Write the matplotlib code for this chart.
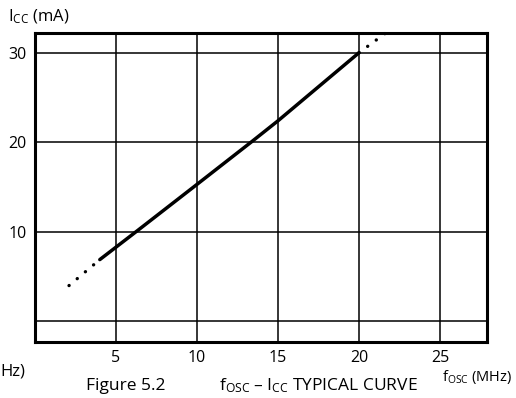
import matplotlib
matplotlib.use("Agg")
import matplotlib.pyplot as plt

plt.rcParams['font.family'] = ['Open Sans', 'DejaVu Sans']
plt.rcParams['mathtext.fontset'] = 'custom'
plt.rcParams['mathtext.rm'] = 'Open Sans'
plt.rcParams['mathtext.it'] = 'Open Sans'
plt.rcParams['lines.scale_dashes'] = False

# measured curve (solid part)
f_solid = [4.0, 6.3, 10.0, 13.4, 15.0, 20.0]
icc_solid = [6.9, 10.1, 15.3, 20.1, 22.4, 30.0]
# extrapolated (dotted) parts
f_low = [2.1, 4.0]
icc_low = [4.0, 6.9]
f_high = [20.0, 21.8]
icc_high = [30.0, 32.4]

xticks = [5, 10, 15, 20, 25]
yticks = [0, 10, 20, 30]
ytick_labels = ["", "10", "20", "30"]

W, H = 516, 398
fig = plt.figure(figsize=(W / 100, H / 100), dpi=100)
ax = fig.add_axes([35 / W, 1 - 342 / H, 452 / W, 309 / H])

ax.plot(f_solid, icc_solid, color="black", lw=2.5, solid_capstyle="round", zorder=3)
ax.plot(f_low, icc_low, color="black", lw=2.4, dashes=(0.1, 7.6),
        dash_capstyle="round", zorder=3)
ax.plot(f_high, icc_high, color="black", lw=2.4, dashes=(0.1, 7.6),
        dash_capstyle="round", zorder=3, clip_on=False)

ax.set_xlim(0, 27.9)
ax.set_ylim(-2.3, 32.2)
ax.set_xticks(xticks)
ax.set_yticks(yticks)
ax.set_yticklabels(ytick_labels)
ax.tick_params(length=0, labelsize=11.5, pad=6)
ax.grid(True, color="black", lw=1.1)
for s in ax.spines.values():
    s.set_linewidth(2.2)

fig.text(8 / W, 1 - 17 / H, r"I$_{\mathrm{CC}}$ (mA)", fontsize=12, va="center")
fig.text(0 / W, 1 - 371 / H, "Hz)", fontsize=12, va="center")
fig.text(86 / W, 1 - 386 / H, "Figure 5.2", fontsize=12.5, va="center")
fig.text(418 / W, 1 - 386 / H, r"f$_{\mathrm{OSC}}$ – I$_{\mathrm{CC}}$ TYPICAL CURVE",
         fontsize=12.5, va="center", ha="right")
fig.text(512 / W, 1 - 377 / H, r"f$_{\mathrm{OSC}}$ (MHz)", fontsize=10.5,
         va="center", ha="right")

fig.savefig("out.png", dpi=100)
